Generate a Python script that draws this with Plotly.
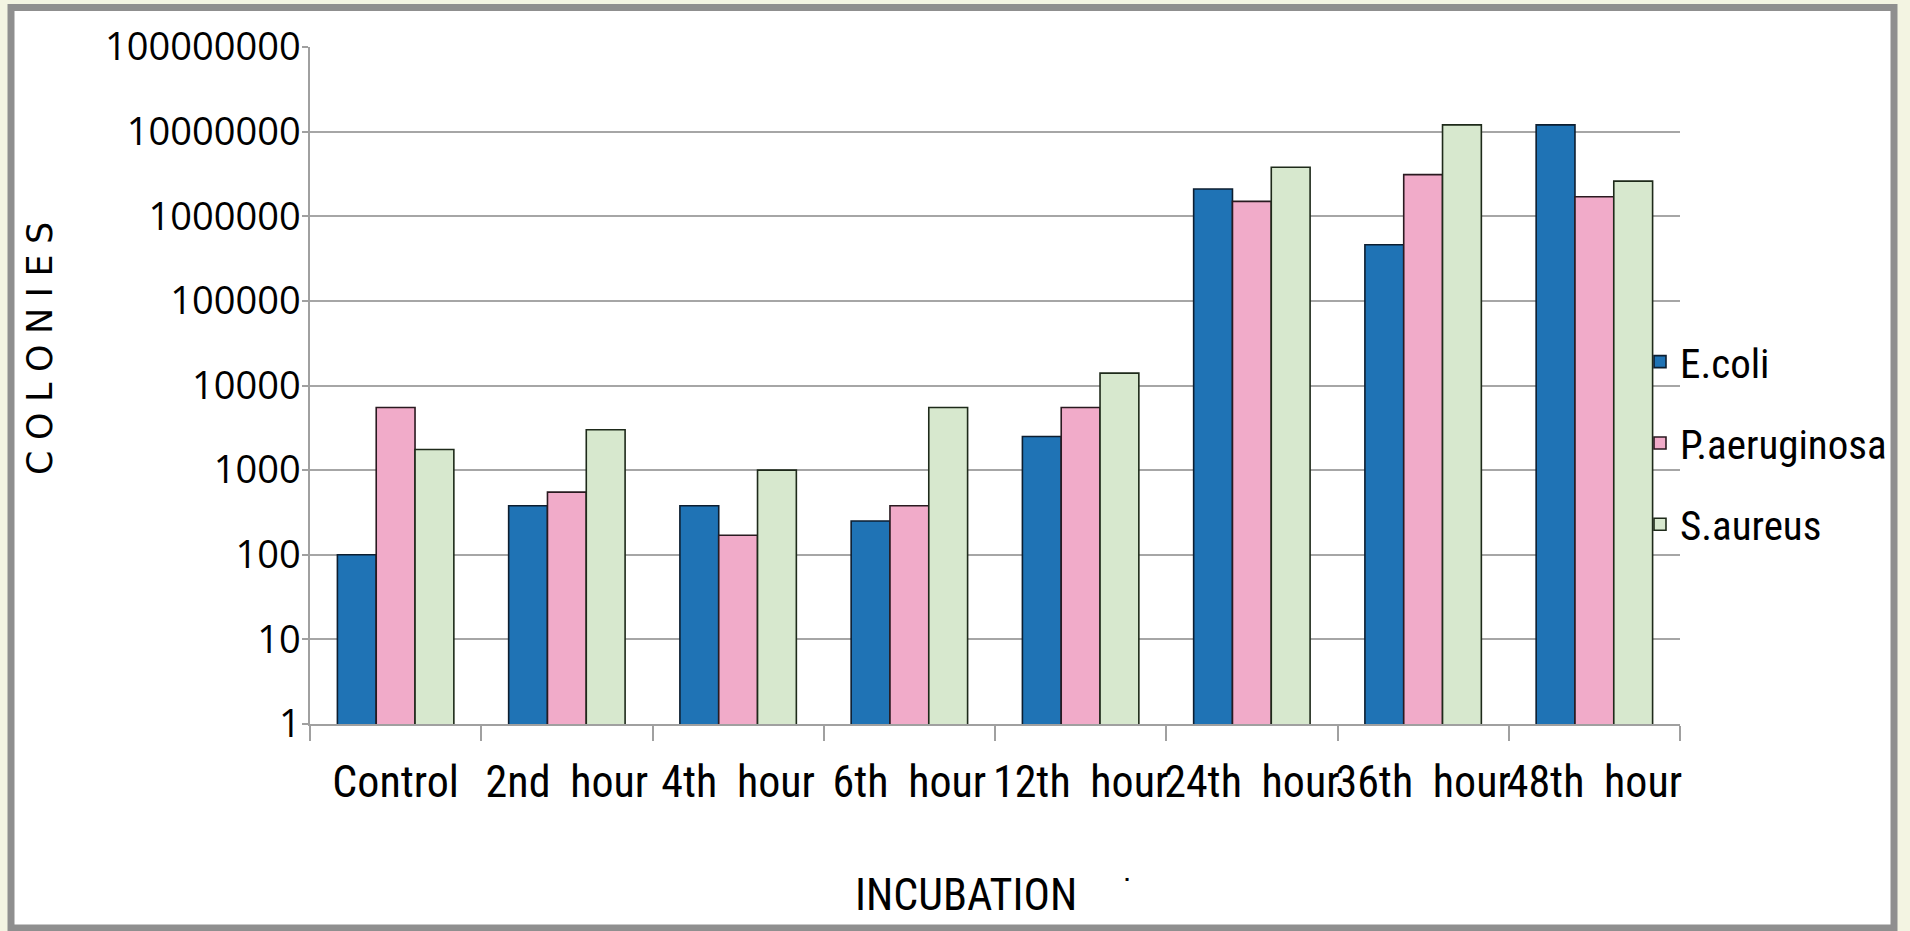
import plotly.graph_objects as go

categories = ["Control", "2nd hour", "4th hour", "6th hour", "12th hour", "24th hour", "36th hour", "48th hour"]
ecoli = [100, 380, 380, 250, 2500, 2100000, 460000, 12000000]
paeruginosa = [5500, 550, 170, 380, 5500, 1500000, 3100000, 1700000]
saureus = [1750, 3000, 1000, 5500, 14000, 3800000, 12000000, 2600000]
series_names = ["E.coli", "P.aeruginosa", "S.aureus"]
y_tick_values = [1, 10, 100, 1000, 10000, 100000, 1000000, 10000000, 100000000]
y_tick_labels = ["1", "10", "100", "1000", "10000", "100000", "1000000", "10000000", "100000000"]

colors = ["#1F73B5", "#F1ABC9", "#D7E8CE"]
line_colors = ["#0D1E30", "#2A1A20", "#1E2A1A"]

W, H = 1910, 931
L, R, T, B = 310, 230, 47, 207
PW, PH = W - L - R, H - T - B


def px(x):
    return (x - L) / PW


def py(y):
    return (H - B - y) / PH


NARROW = "Liberation Sans Narrow, Arial Narrow, Roboto Condensed, sans-serif"

fig = go.Figure()
for name, vals, c, lc in zip(series_names, [ecoli, paeruginosa, saureus], colors, line_colors):
    fig.add_trace(go.Bar(
        x=categories, y=vals, name=name, legendgroup=name,
        marker=dict(color=c, line=dict(color=lc, width=1.6)),
    ))

ticktext = [c.replace(" ", "\u2002") for c in categories]

fig.update_layout(
    width=W, height=H,
    margin=dict(l=L, r=R, t=T, b=B, pad=0),
    paper_bgcolor="#F3F4E2",
    plot_bgcolor="white",
    barmode="group", bargap=0.32, bargroupgap=0,
    showlegend=True,
    legend=dict(
        x=px(1640), xanchor="left", y=py(443), yanchor="middle",
        font=dict(family=NARROW, size=41, color="black"),
        bgcolor="rgba(0,0,0,0)", borderwidth=0,
        tracegroupgap=25, traceorder="grouped",
    ),
    xaxis=dict(
        type="category",
        tickmode="array", tickvals=categories, ticktext=ticktext,
        tickangle=0,
        tickfont=dict(family=NARROW, size=44, color="black"),
        showline=True, linecolor="#A0A0A0", linewidth=1.5,
        ticks="outside", tickson="boundaries", ticklen=15, tickcolor="#A0A0A0", tickwidth=1.5,
        ticklabelstandoff=18,
        showgrid=False, zeroline=False,
    ),
    yaxis=dict(
        type="log", range=[0, 8],
        tickmode="array", tickvals=y_tick_values, ticktext=y_tick_labels,
        tickfont=dict(family="Open Sans, sans-serif", size=38, color="black"),
        showline=True, linecolor="#A0A0A0", linewidth=1.5,
        ticks="outside", ticklen=6, tickcolor="#A0A0A0", tickwidth=1.5,
        ticklabelstandoff=-6,
        showgrid=True, gridcolor="#A6A6A6", gridwidth=1.5,
        zeroline=False,
    ),
    shapes=[dict(
        type="rect", xref="paper", yref="paper", layer="below",
        x0=px(11), x1=px(1894), y0=py(928), y1=py(7.5),
        line=dict(color="#8F8F8F", width=7), fillcolor="white",
    )],
    annotations=[
        dict(text="\u2009\u200a".join("COLONIES"), textangle=-90,
             xref="paper", yref="paper", x=px(40), y=py(349),
             xanchor="center", yanchor="middle", showarrow=False,
             font=dict(family="DejaVu Sans, sans-serif", size=35, color="black")),
        dict(text="INCUBATION",
             xref="paper", yref="paper", x=px(966), y=py(895),
             xanchor="center", yanchor="middle", showarrow=False,
             font=dict(family=NARROW, size=44, color="black")),
        dict(text="\u25aa",
             xref="paper", yref="paper", x=px(1127), y=py(878),
             xanchor="center", yanchor="middle", showarrow=False,
             font=dict(family="DejaVu Sans, sans-serif", size=6, color="black")),
    ],
)

fig.write_html("out.html", config={"displayModeBar": False},
               post_script="document.body.style.margin='0';document.body.style.overflow='hidden';")
